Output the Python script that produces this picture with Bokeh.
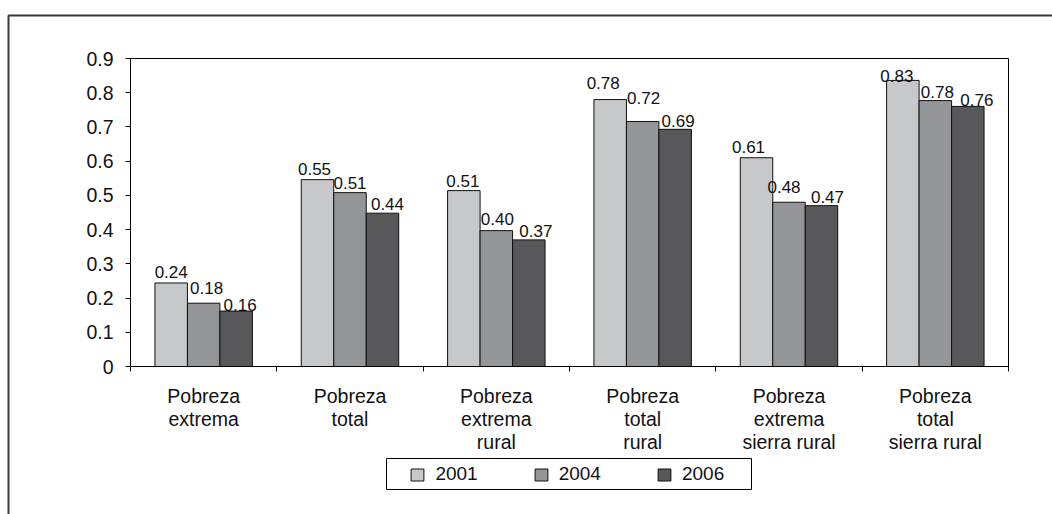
from bokeh.plotting import figure
from bokeh.models import (Range1d, FixedTicker, CustomJSTickFormatter, Legend, LegendItem,
                          Label, BoxAnnotation, ColumnDataSource)
from bokeh.core.properties import value
from bokeh.embed import file_html
from bokeh.resources import INLINE
import numpy as np

# ---------------- data ----------------
categories = ["Pobreza\nextrema", "Pobreza\ntotal", "Pobreza\nextrema\nrural",
              "Pobreza\ntotal\nrural", "Pobreza\nextrema\nsierra rural",
              "Pobreza\ntotal\nsierra rural"]
years = ["2001", "2004", "2006"]
v2001 = [0.244, 0.546, 0.514, 0.780, 0.610, 0.836]
v2004 = [0.185, 0.508, 0.397, 0.716, 0.480, 0.777]
v2006 = [0.162, 0.448, 0.370, 0.693, 0.470, 0.760]
lab2001 = ["0.24", "0.55", "0.51", "0.78", "0.61", "0.83"]
lab2004 = ["0.18", "0.51", "0.40", "0.72", "0.48", "0.78"]
lab2006 = ["0.16", "0.44", "0.37", "0.69", "0.47", "0.76"]
y_ticks = [0, 0.1, 0.2, 0.3, 0.4, 0.5, 0.6, 0.7, 0.8, 0.9]

# ---------------- layout / style ----------------
colors = ["#c7c8ca", "#949598", "#58585a"]
FONT = "Liberation Sans"
TXT = "#111111"
BW = 0.222
offsets = [-BW, 0.0, BW]
# per-label nudges in px (dx right, gap above bar top)
dx = [[0, -3, -1, -7, -8, -6],
      [3, 0, 1, 1, -5, 2],
      [4, 5, 7, 3, 6, 9]]
gap = [[11, 11, 10, 17, 11, 4],
       [15, 10, 12, 23, 15, 9],
       [6, 9, 9, 8, 9, 6]]

W, H = 1052, 514
PL, PR, PT, PB = 130, 1008, 58, 366   # plot area in page px
YMAX = 0.9
NCAT = len(categories)
XPP = NCAT / (PR - PL)     # data x per px
YPP = YMAX / (PB - PT)     # data y per px

def xd(px):
    return (px - PL) * XPP

def yd(py):
    return (PB - py) * YPP

p = figure(width=W, height=H, output_backend="svg", toolbar_location=None,
           x_range=Range1d(xd(0), xd(W)), y_range=Range1d(yd(H), yd(0)),
           min_border=0)
p.xgrid.visible = False
p.ygrid.visible = False
p.outline_line_color = None
p.background_fill_color = "white"
p.border_fill_color = "white"

# y axis (fixed at x = 0)
ya = p.yaxis[0]
ya.fixed_location = 0
ya.bounds = (0, YMAX)
ya.ticker = FixedTicker(ticks=y_ticks)
ya.formatter = CustomJSTickFormatter(code="return tick == 0 ? '0' : tick.toFixed(1);")
ya.major_tick_out = 5
ya.major_tick_in = 0
ya.minor_tick_line_color = None
ya.axis_line_color = "black"
ya.major_tick_line_color = "black"
ya.major_label_standoff = 12
ya.major_label_text_font = FONT
ya.major_label_text_font_size = "19.5px"
ya.major_label_text_color = TXT

# x axis (fixed at y = 0): boundary ticks only
xa = p.xaxis[0]
xa.fixed_location = 0
xa.bounds = (0, NCAT)
xa.ticker = FixedTicker(ticks=list(range(NCAT + 1)))
xa.formatter = CustomJSTickFormatter(code="return '';")
xa.major_tick_out = 5
xa.major_tick_in = 0
xa.minor_tick_line_color = None
xa.axis_line_color = "black"
xa.major_tick_line_color = "black"

centers = np.arange(NCAT) + 0.5
series = [v2001, v2004, v2006]
labels = [lab2001, lab2004, lab2006]
renderers = []
for i in range(3):
    xs = centers + offsets[i]
    src = ColumnDataSource(dict(x=xs, top=series[i]))
    r = p.vbar(x="x", top="top", width=BW, source=src, fill_color=colors[i],
               line_color="#111111", line_width=1)
    renderers.append(r)
for i in range(3):
    xs = centers + offsets[i]
    for j in range(NCAT):
        p.text(x=[xs[j]], y=[series[i][j]], text=[labels[i][j]],
               x_offset=dx[i][j], y_offset=-gap[i][j],
               text_align="center", text_baseline="alphabetic",
               text_font=value(FONT), text_font_size="17px", text_color=TXT)

# plot-area box (top/right edges)
p.add_layout(BoxAnnotation(left=0, right=NCAT, bottom=0, top=YMAX, fill_alpha=0,
                           line_color="black", line_alpha=1, line_width=1, level="underlay"))

# category labels (multi-line, below axis)
line_py = [395, 418, 441]
for j, cat in enumerate(categories):
    for k, line in enumerate(cat.split("\n")):
        p.add_layout(Label(x=centers[j], y=yd(line_py[k]), text=line,
                           text_align="center", text_baseline="alphabetic",
                           text_font=FONT, text_font_size="19.5px", text_color=TXT))

# legend
legend = Legend(items=[LegendItem(label=years[i], renderers=[renderers[i]]) for i in range(3)],
                orientation="horizontal", location=(409.4, H - 485), padding=0, margin=0,
                spacing=55, glyph_width=16, glyph_height=15, label_standoff=10,
                border_line_color=None, background_fill_alpha=0,
                label_text_font=FONT, label_text_font_size="19px", label_text_color=TXT)
p.add_layout(legend)
p.add_layout(BoxAnnotation(left=xd(386), right=xd(751), top=yd(458), bottom=yd(489),
                           fill_alpha=0, line_color="black", line_alpha=1, line_width=1,
                           level="overlay"))

# outer page frame (left and top edges)
p.add_layout(BoxAnnotation(left=xd(8), right=xd(W + 50), top=yd(15), bottom=yd(H + 50),
                           fill_alpha=0, line_color="#3a3a3a", line_alpha=1, line_width=2,
                           level="overlay"))

open("out.html", "w").write(file_html(p, INLINE))
